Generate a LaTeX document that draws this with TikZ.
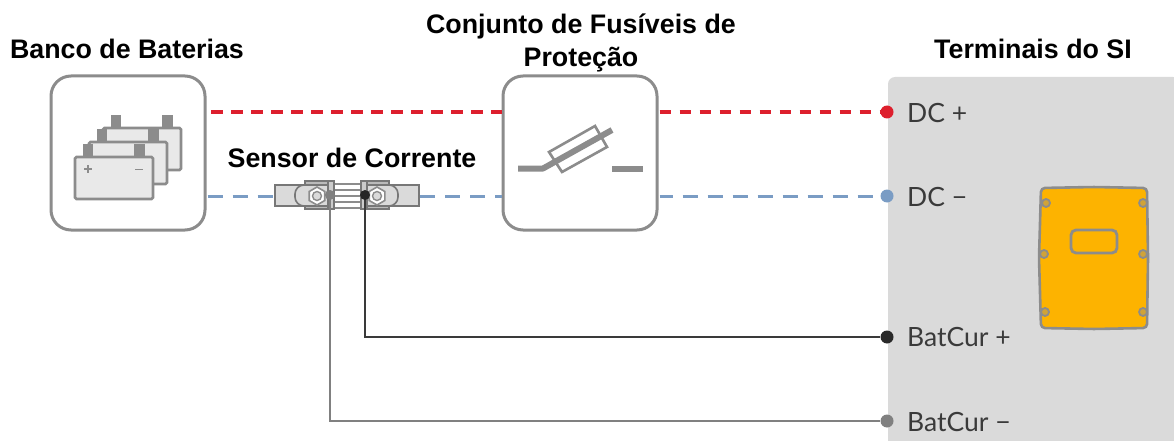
\documentclass[tikz,border=0pt]{standalone}
\usepackage{fontspec}
\usetikzlibrary{shapes.geometric}
\setmainfont{Liberation Sans}
\newfontfamily\lab{Lato}
\definecolor{frame}{HTML}{8C8C8C}
\definecolor{panel}{HTML}{DADADA}
\definecolor{redw}{HTML}{DD1F2D}
\definecolor{bluew}{HTML}{7A9CC4}
\definecolor{darkw}{HTML}{3A3A3A}
\definecolor{greyw}{HTML}{808080}
\definecolor{cellf}{HTML}{E9E9E9}
\definecolor{yel}{HTML}{FDB300}
\tikzset{
 title/.style={font=\fontsize{26.8}{33}\selectfont\bfseries,align=center,text=black,inner sep=0pt},
 termlabel/.style={font=\lab\fontsize{26.5}{30}\selectfont,text=darkw,anchor=west,inner sep=0pt},
 box/.style={draw=frame,line width=3pt,rounded corners=20pt,fill=white},
 redline/.style={redw,line width=3.4pt,dash pattern=on 11.5pt off 8.5pt},
 blueline/.style={bluew,line width=3pt,dash pattern=on 15pt off 10pt},
 sensewire/.style={line width=2.8pt},
 term/.style={circle,inner sep=0pt,minimum size=13pt},
 cell/.style={draw=frame,line width=2.8pt,fill=cellf,rounded corners=1.5pt},
 post/.style={fill=frame},
 plate/.style={draw=frame!85!black,line width=1.6pt,fill=panel},
 nut/.style={draw=frame,line width=1.6pt,fill=white,regular polygon,regular polygon sides=6,minimum size=18pt,inner sep=0pt,rotate=30},
 stud/.style={draw=frame,line width=1.4pt,fill=panel,circle,minimum size=9pt,inner sep=0pt},
 ear/.style={draw=frame,line width=1.8pt,fill=yel!60!frame,circle,minimum size=8pt,inner sep=0pt},
}
\begin{document}
\begin{tikzpicture}[x=1pt,y=-1pt]
\useasboundingbox (0,0) rectangle (1174,441);
% terminal panel
\fill[panel,rounded corners=7pt] (888,77) -- (1180,77) -- (1180,448) -- (888,448) -- cycle;
% free-end coordinates
\coordinate (senL) at (275,196);
\coordinate (senR) at (419,196);
\coordinate (joinK) at (365,195);
\coordinate (joinG) at (330,195);
% terminals
\node[term,fill=redw] (dcp) at (887,112) {};
\node[term,fill=bluew] (dcm) at (887,196) {};
\node[term,fill=darkw!70!black] (bcp) at (887,337) {};
\node[term,fill=greyw] (bcm) at (887,421) {};
% boxes
\node[box,minimum width=154pt,minimum height=154pt,inner sep=0pt] (bank) at (128,153) {};
\node[box,minimum width=154pt,minimum height=154pt,inner sep=0pt] (fuse) at (580,153) {};
% wires
\draw[redline] (211,112) -- (fuse.west |- 0,112);
\draw[redline] (fuse.east |- 0,112) ++(1,0) -- (dcp);
\draw[blueline] (bank.east |- 0,196) ++(1,0) -- (senL);
\draw[blueline] (senR) ++(1,0) -- (fuse.west |- 0,196);
\draw[blueline,dash phase=2pt] (fuse.east |- 0,196) ++(1,0) -- (dcm);
% battery icon
\foreach \dx/\dy in {28/-29,14/-15,0/0}{
 \begin{scope}[shift={(\dx,\dy)}]
  \fill[post] (83,144) rectangle (93,158);
  \fill[post] (134,144) rectangle (145,158);
  \draw[cell] (75,157) rectangle (153,199);
 \end{scope}}
\draw[frame,line width=1.4pt] (84,169) -- (92,169) (88,165) -- (88,173);
\draw[frame,line width=1.4pt] (135,169.5) -- (143,169.5);
% fuse icon
\draw[frame,line width=2.6pt,fill=white] (549,152) -- (595,126) -- (607,147) -- (562,172) -- cycle;
\draw[frame,line join=round,line width=6pt] (518,168.5) -- (543,168.5) -- (612,130);
\draw[frame,line width=6pt] (612,168.5) -- (643,168.5);
% sensor
\draw[plate] (275,185) rectangle (310,206);
\draw[plate] (385,185) rectangle (419,206);
\draw[plate,fill=frame!60] (305,181) rectangle (328,209);
\draw[plate,fill=frame!60] (367,181) rectangle (389,209);
\draw[plate,rounded corners=9pt] (328,185) -- (295,185) -- (295,206) -- (328,206);
\draw[plate,rounded corners=9pt] (367,185) -- (398,185) -- (398,206) -- (367,206);
\fill[white] (334,184) rectangle (361,208);
\foreach \y in {184,190,196,202,208}{\draw[frame,line width=1.6pt] (334,\y) -- (361,\y);}
\draw[plate,line width=1.8pt,fill=frame!45] (328,181) rectangle (334,209);
\draw[plate,line width=1.8pt,fill=frame!45] (361,181) rectangle (367,209);
\node[nut] (nut1) at (317,196) {};
\node[nut] (nut2) at (377,196) {};
\node[stud] (stud1) at (317,196) {};
\node[stud] (stud2) at (377,196) {};
% sense wires
\draw[darkw,sensewire] (joinK) |- (bcp);
\draw[greyw,sensewire] (joinG) |- (bcm);
\fill[greyw] (joinG) circle (5pt);
\fill[black!85] (joinK) circle (5pt);
% yellow device
\draw[frame,line width=2.6pt,fill=yel,rounded corners=4pt] (1041,188) -- (1094,187) -- (1147,188) -- (1148,258) -- (1147,328) -- (1094,329) -- (1041,328) -- (1039,258) -- cycle;
\draw[frame,line width=2.8pt,rounded corners=5pt] (1071,230) rectangle (1117,253);
\node[ear] (e1) at (1046,203) {};
\node[ear] (e2) at (1143,203) {};
\node[ear] (e3) at (1044,254) {};
\node[ear] (e4) at (1143,254) {};
\node[ear] (e5) at (1045,312) {};
\node[ear] (e6) at (1143,312) {};
% text
\node[title] (t1) at (127,49) {Banco de Baterias};
\node[title] (t2) at (581,43) {Conjunto de Fusíveis de\\Proteção};
\node[title] (t3) at (1033,49) {Terminais do SI};
\node[title] (t4) at (352,158) {Sensor de Corrente};
\node[termlabel] (l1) at (907,113) {DC +};
\node[termlabel] (l2) at (907,197) {DC −};
\node[termlabel] (l3) at (907,337) {BatCur +};
\node[termlabel] (l4) at (907,422) {BatCur −};
\end{tikzpicture}
\end{document}
